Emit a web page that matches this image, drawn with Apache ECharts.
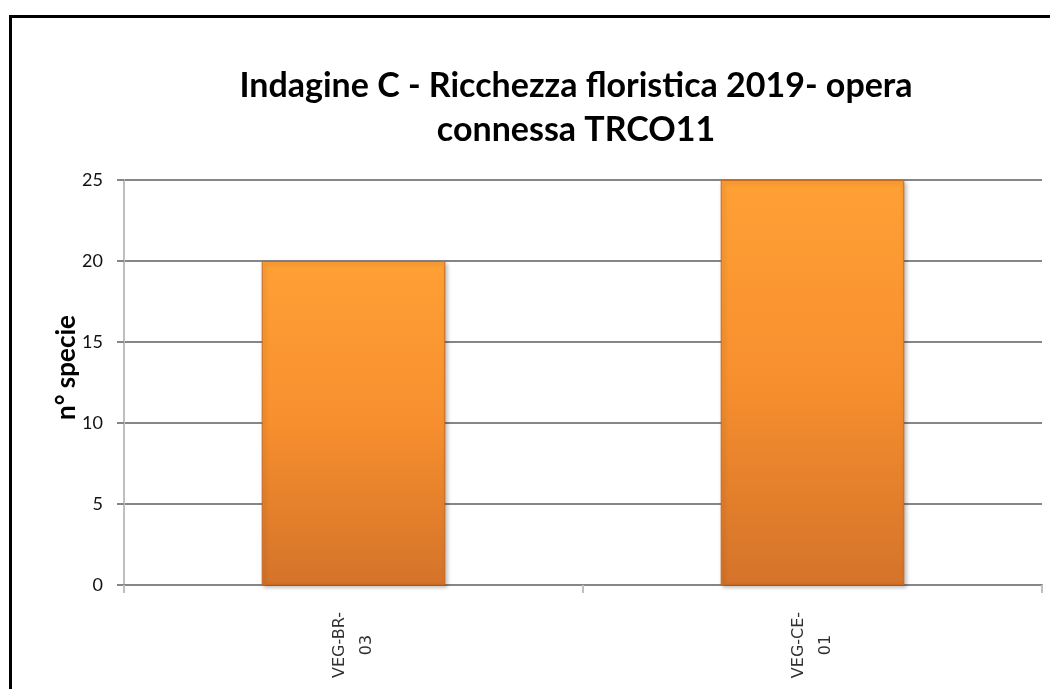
<!DOCTYPE html>
<html>
<head>
<meta charset="utf-8">
<script src="https://cdn.jsdelivr.net/npm/echarts@6/dist/echarts.min.js"></script>
<style>
  html, body { margin: 0; padding: 0; background: #fff; }
  #frame { position: absolute; left: 9px; top: 15px; width: 1100px; height: 700px;
           border-top: 3px solid #000; border-left: 3px solid #000; }
  #chart { position: absolute; left: 0; top: 0; width: 1050px; height: 689px; }
</style>
</head>
<body>
<div id="frame"></div>
<div id="chart"></div>
<script>
(function(){
    var categories = ['VEG-BR-\n03', 'VEG-CE-\n01'];
    var values = [20, 25];
    var yTicks = { min: 0, max: 25, interval: 5 };

    var myChart = echarts.init(document.getElementById('chart'));
    var option = {
        animation: false,
        title: {
            text: 'Indagine C - Ricchezza floristica 2019- opera\nconnessa TRCO11',
            left: 571,
            top: 59,
            textAlign: 'center',
            textStyle: {
                fontFamily: 'Lato',
                fontSize: 34,
                fontWeight: 'bold',
                lineHeight: 44,
                color: '#000'
            }
        },
        grid: {
            left: 124,
            right: 8,
            top: 180,
            bottom: 104
        },
        xAxis: {
            type: 'category',
            data: categories,
            axisLine: {
                lineStyle: { color: '#868686', width: 2 }
            },
            axisTick: {
                show: true,
                length: 8,
                lineStyle: { color: '#bfbfbf', width: 2 }
            },
            axisLabel: {
                rotate: 90,
                align: 'center',
                margin: 60,
                fontFamily: 'DejaVu Sans',
                fontSize: 16,
                lineHeight: 27,
                color: '#303030'
            }
        },
        yAxis: {
            type: 'value',
            min: yTicks.min,
            max: yTicks.max,
            interval: yTicks.interval,
            name: 'n° specie',
            nameLocation: 'middle',
            nameGap: 44,
            nameMoveOverlap: false,
            nameTextStyle: {
                fontFamily: 'Lato',
                fontSize: 26,
                fontWeight: 'bold',
                color: '#000',
                padding: [0, 0, 0, 30]
            },
            axisLine: {
                show: true,
                lineStyle: { color: '#bfbfbf', width: 2 }
            },
            axisTick: {
                show: true,
                length: 7,
                lineStyle: { color: '#868686', width: 2 }
            },
            axisLabel: {
                margin: 21,
                fontFamily: 'Lato',
                fontSize: 18,
                color: '#111'
            },
            splitLine: {
                lineStyle: { color: '#868686', width: 2 }
            }
        },
        series: [{
            type: 'bar',
            data: values,
            barWidth: '40%',
            itemStyle: {
                color: new echarts.graphic.LinearGradient(0, 0, 0, 1, [
                    { offset: 0, color: '#ffa035' },
                    { offset: 0.5, color: '#f78f2e' },
                    { offset: 1, color: '#d4732a' }
                ]),
                borderColor: '#c8681f',
                borderWidth: 1,
                shadowColor: 'rgba(0,0,0,0.25)',
                shadowBlur: 4,
                shadowOffsetX: 2,
                shadowOffsetY: 2
            }
        }]
    };
    myChart.setOption(option);

    window.addEventListener('resize', function() {
        myChart.resize();
    });
})();
</script>
</body>
</html>
